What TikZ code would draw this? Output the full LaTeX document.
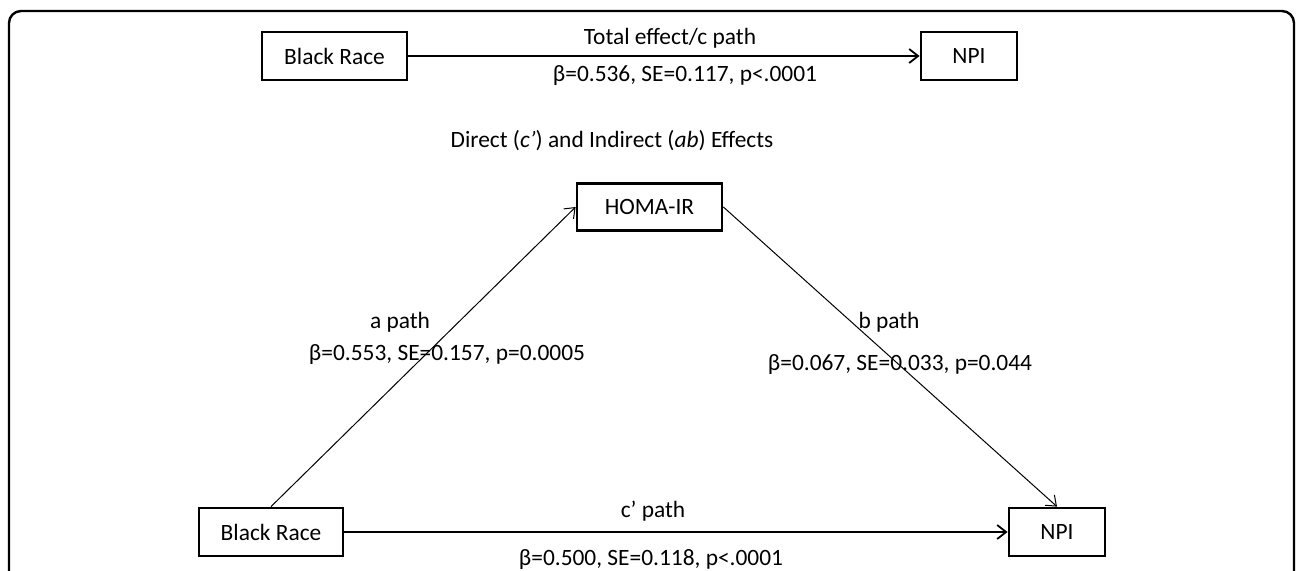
\documentclass[tikz,border=0pt]{standalone}
\usepackage{fontspec}
\setmainfont{Carlito}
\usetikzlibrary{arrows.meta}
\tikzset{
  varbox/.style={draw,line width=1.4pt,minimum height=24pt,inner sep=0pt,font=\fontsize{11.7}{14}\selectfont},
  lbl/.style={inner sep=0pt,anchor=base,font=\fontsize{11.7}{14}\selectfont},
  effect/.style={-{Straight Barb[length=4.5pt,width=7pt]},line width=0.9pt},
  subpath/.style={-{Straight Barb[length=4.5pt,width=7pt]},line width=0.5pt}
}
\begin{document}
\begin{tikzpicture}[x=0.5pt,y=-0.5pt]
\clip (0,0) rectangle (1296,570);
\fill[white] (0,0) rectangle (1296,570);
% outer frame (open at the bottom)
\draw[line width=1.2pt,rounded corners=6pt] (9,600) -- (9,11) -- (1294,11) -- (1294,600);
% total effect
\node[varbox,minimum width=72.5pt] (race1) at (334.5,56) {Black Race};
\node[varbox,minimum width=48pt] (npi1) at (969,56) {NPI};
\draw[effect] (race1.east) -- (npi1.west);
\node[lbl] (ctitle) at (670,44) {Total effect/c path};
\node[lbl] (cstat) at (685,81) {β=0.536, SE=0.117, p<.0001};
% direct and indirect effects
\node[lbl] (title) at (612,147) {Direct (\textit{c’}) and Indirect (\textit{ab}) Effects};
\node[varbox,minimum width=72.5pt,minimum height=23.5pt] (homa) at (649.5,207) {HOMA-IR};
\node[varbox,minimum width=72pt] (race2) at (271,532) {Black Race};
\node[varbox,minimum width=48pt] (npi2) at (1057,532) {NPI};
\draw[subpath] (race2.north) -- (homa.west);
\draw[subpath] (homa.east) -- (npi2.north);
\draw[effect] (race2.east) -- (npi2.west);
\node[lbl] (atitle) at (400,328) {a path};
\node[lbl] (astat) at (447,360) {β=0.553, SE=0.157, p=0.0005};
\node[lbl] (btitle) at (889,328) {b path};
\node[lbl] (bstat) at (900,370) {β=0.067, SE=0.033, p=0.044};
\node[lbl] (dtitle) at (653,517) {c’ path};
\node[lbl] (dstat) at (651,565) {β=0.500, SE=0.118, p<.0001};
\end{tikzpicture}
\end{document}
